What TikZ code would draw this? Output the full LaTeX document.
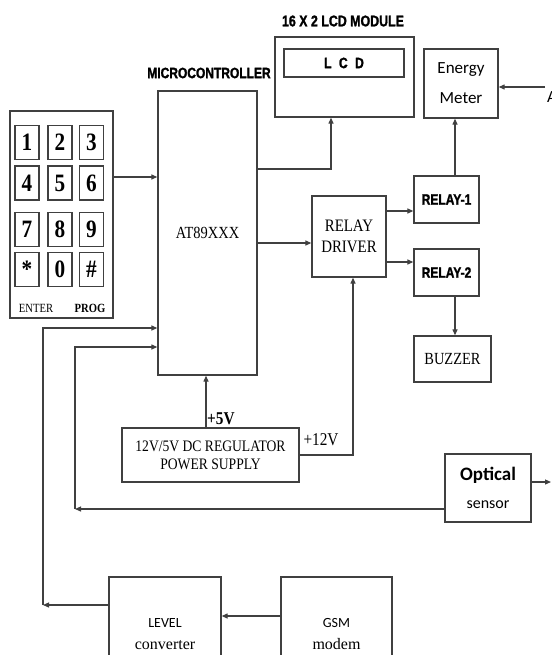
\documentclass[tikz,border=0pt]{standalone}
\usepackage{fontspec}
\setmainfont{Liberation Serif}
\newfontfamily\condserif[FakeStretch=0.85]{Liberation Serif}
\newfontfamily\condsans[FakeStretch=0.8,FakeBold=1.5]{Liberation Sans}
\newfontfamily\calib{Carlito}
\usetikzlibrary{arrows.meta,positioning}
\definecolor{linegray}{RGB}{64,64,64}
\tikzset{
  blk/.style     = {draw=linegray,line width=1.3pt,inner sep=0pt,align=center},
  keybox/.style  = {draw=linegray,line width=1.2pt,minimum width=24pt,minimum height=34pt,
                    inner sep=0pt,font=\condserif\bfseries\fontsize{25}{27}\selectfont},
  serifbox/.style= {blk,font=\condserif\fontsize{17}{20}\selectfont},
  relaybox/.style= {blk,font=\condsans\bfseries\fontsize{15}{17}\selectfont},
  calbox/.style  = {blk,font=\calib\fontsize{17}{30}\selectfont},
  heading/.style = {inner sep=0pt,font=\condsans\bfseries\fontsize{15}{17}\selectfont},
  volt/.style    = {inner sep=0pt,font=\condserif\fontsize{18}{20}\selectfont},
  arrow/.style   = {-{Triangle[length=6pt,width=5pt]},line width=1.2pt,draw=linegray},
}
\begin{document}
\begin{tikzpicture}[x=1pt,y=-1pt]
  \useasboundingbox (0,0) rectangle (551,655);

  % keypad
  \node[blk,minimum width=103pt,minimum height=207pt] (kp) at (61.5,214.5) {};
  \foreach \k/\cx/\cy [count=\i] in {1/27/142.5,2/60/142.5,3/91.5/142.5,
                                      4/27/183,5/60/183,6/91.5/183,
                                      7/27/229.5,8/60/229.5,9/91.5/229.5,
                                      */27/269.5,0/60/269.5,\#/91.5/269.5}
    \node[keybox] (key\i) at (\cx,\cy) {\k};
  \node[inner sep=0pt,font=\condserif\fontsize{12.5}{14}\selectfont] (enter) at (36,308) {ENTER};
  \node[inner sep=0pt,font=\condserif\bfseries\fontsize{12.5}{14}\selectfont] (prog) at (90,308) {PROG};

  % controller and display
  \node[serifbox,minimum width=99pt,minimum height=284pt] (mcu) at (207.5,233) {AT89XXX};
  \node[heading] (mcutitle) at (209,73) {MICROCONTROLLER};
  \node[blk,minimum width=139pt,minimum height=80pt] (lcd) at (344.5,77) {};
  \node[relaybox,minimum width=120pt,minimum height=28pt] (lcdscreen) at (344,63)
    {L\enspace C\enspace D};
  \node[heading,font=\condsans\bfseries\fontsize{15.5}{17}\selectfont] (lcdtitle) at (343,21)
    {16 X 2 LCD MODULE};

  % relays and loads
  \node[calbox,minimum width=74pt,minimum height=69pt] (em) at (461,83.5) {Energy\\Meter};
  \node[serifbox,font=\condserif\fontsize{17.5}{21}\selectfont,
        minimum width=74pt,minimum height=81pt] (drv) at (349,236.5) {RELAY\\DRIVER};
  \node[relaybox,minimum width=65pt,minimum height=47pt] (rly1) at (446.5,199.5) {RELAY-1};
  \node[relaybox,minimum width=65pt,minimum height=47pt] (rly2) at (446.5,272.5) {RELAY-2};
  \node[serifbox,minimum width=77pt,minimum height=46pt] (buz) at (452.5,359) {BUZZER};
  \node[inner sep=0pt,anchor=west,font=\calib\fontsize{17}{19}\selectfont] (ac) at (547,97) {A};

  % supply and inputs
  \node[serifbox,font=\condserif\fontsize{16}{18}\selectfont,
        minimum width=177pt,minimum height=54pt] (ps) at (210.5,455)
    {12V/5V DC REGULATOR\\POWER SUPPLY};
  \node[volt,anchor=west] (v5) at (207,419) {\bfseries +5V};
  \node[volt] (v12) at (321,440) {+12V};
  \node[calbox,minimum width=86pt,minimum height=68pt] (opt) at (488,488)
    {{\bfseries\fontsize{19}{21}\selectfont Optical}\\[-2pt]{\fontsize{16}{18}\selectfont sensor}};
  \node[blk,font=\fontsize{16}{22}\selectfont,minimum width=112pt,minimum height=114pt] (lvl)
    at (165,634) {{\calib\fontsize{14}{16}\selectfont LEVEL}\\converter};
  \node[blk,font=\fontsize{16}{22}\selectfont,minimum width=111pt,minimum height=114pt] (gsm)
    at (336.5,634) {{\calib\fontsize{14}{16}\selectfont GSM}\\modem};

  \coordinate (acin) at (545,87);
  \coordinate (optout) at (551,482);
  \coordinate (optc) at (75,509);
  \coordinate (lvlc) at (43,605);

  \draw[arrow] (kp.east |- 0,177) -- (mcu.west |- 0,177);
  \draw[arrow] (mcu.east |- 0,169) -| (lcd.south -| 331,0);
  \draw[arrow] (mcu.east |- 0,243) -- (drv.west |- 0,243);
  \draw[arrow] (drv.east |- 0,211) -- (rly1.west |- 0,211);
  \draw[arrow] (drv.east |- 0,262) -- (rly2.west |- 0,262);
  \draw[arrow] (rly1.north -| 455,0) -- (em.south -| 455,0);
  \draw[arrow] (rly2.south -| 455,0) -- (buz.north -| 455,0);
  \draw[arrow] (acin) -- (em.east |- acin);
  \draw[arrow] (ps.north -| 206,0) -- (mcu.south -| 206,0);
  \draw[arrow] (ps.east |- 0,455) -| (drv.south -| 353,0);
  \draw[arrow] (opt.east |- optout) -- (optout);
  \draw[arrow] (opt.west |- optc) -- (optc);
  \draw[arrow] (optc) |- (mcu.west |- 0,347);
  \draw[arrow] (gsm.west |- 0,616) -- (lvl.east |- 0,616);
  \draw[arrow] (lvl.west |- lvlc) -- (lvlc);
  \draw[arrow] (lvlc) |- (mcu.west |- 0,328);
\end{tikzpicture}
\end{document}
